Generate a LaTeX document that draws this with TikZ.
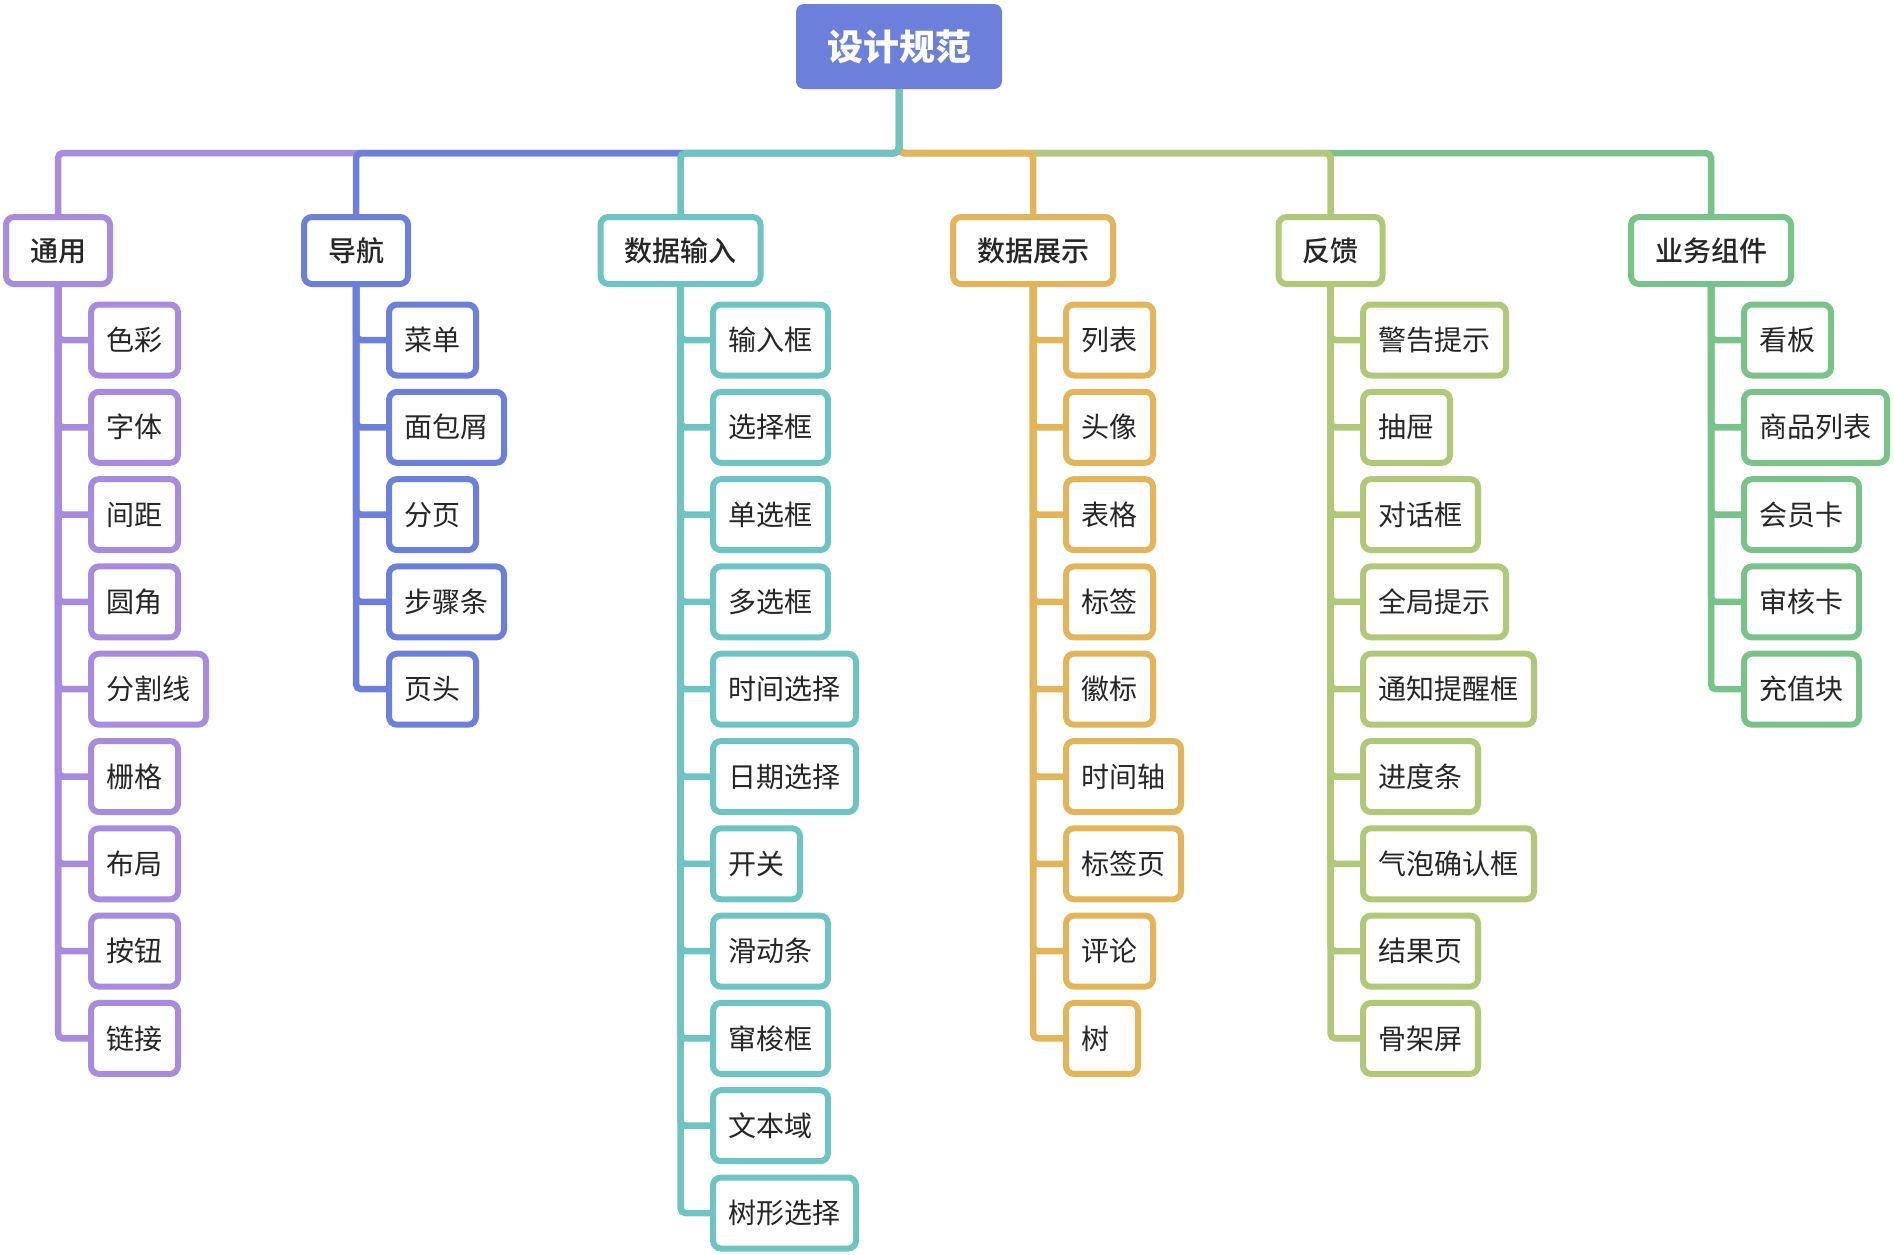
\documentclass[tikz,border=0pt]{standalone}
\usepackage{fontspec}
\setmainfont{Noto Sans CJK SC}
\IfFontExistsTF{Noto Sans CJK SC Medium}
  {\newfontfamily\catfont{Noto Sans CJK SC Medium}}
  {\newcommand\catfont{\bfseries}}
\definecolor{cpurple}{HTML}{A78BDF}
\definecolor{cblue}{HTML}{6B7FDB}
\definecolor{cteal}{HTML}{6EC3C3}
\definecolor{corange}{HTML}{E3B55A}
\definecolor{cyg}{HTML}{B2C879}
\definecolor{cgreen}{HTML}{79C38A}
\definecolor{txt}{HTML}{262626}
\tikzset{
  leaf/.style={draw=#1, line width=6pt, rounded corners=8pt, fill=white,
    minimum height=71pt, inner xsep=15.5pt, inner ysep=0pt, anchor=west,
    font=\fontsize{28pt}{34pt}\selectfont, text=txt, text height=21.3pt, text depth=0pt},
  cat/.style={draw=#1, line width=6pt, rounded corners=8pt, fill=white,
    minimum height=67pt, inner xsep=24pt, inner ysep=0pt, anchor=north,
    font=\fontsize{28pt}{34pt}\selectfont\catfont, text=txt, text height=21.3pt, text depth=0pt},
  wire/.style={draw=#1, line width=6.5pt, rounded corners=5pt},
  rootbox/.style={fill=cblue, rounded corners=8pt, minimum width=206pt, minimum height=85pt,
    inner sep=0pt, font=\fontsize{36pt}{42pt}\selectfont\bfseries, text=white,
    text height=27.4pt, text depth=0pt}
}
\begin{document}
\begin{tikzpicture}[x=1pt,y=-1pt]
\useasboundingbox (0,0) rectangle (1894,1254);
\node[rootbox] (root) at (899,46.5) {设计规范};
\coordinate (bus) at (899,153);
% categories
\node[cat=cpurple] (gen) at (58,214) {通用};
\node[cat=cblue] (nav) at (356,214) {导航};
\node[cat=cteal] (inp) at (680.5,214) {数据输入};
\node[cat=corange] (dsp) at (1033,214) {数据展示};
\node[cat=cyg] (fbk) at (1330.5,214) {反馈};
\node[cat=cgreen] (biz) at (1711,214) {业务组件};
% bus connectors
\draw[wire=cpurple] (root.south) -- (root.south |- bus) -| (gen.north);
\draw[wire=cblue] (root.south) -- (root.south |- bus) -| (nav.north);
\draw[wire=cgreen] (root.south) -- (root.south |- bus) -| (biz.north);
\draw[wire=cyg] (root.south) -- (root.south |- bus) -| (fbk.north);
\draw[wire=corange] (root.south) -- (root.south |- bus) -| (dsp.north);
\draw[wire=cteal] (root.south) -- (root.south |- bus) -| (inp.north);
% children
\foreach \t [count=\i from 0] in {色彩,字体,间距,圆角,分割线,栅格,布局,按钮,链接}{
  \node[leaf=cpurple] (gen-\i) at (88,{340+87.3*\i}) {\t};
  \draw[wire=cpurple] (gen.south) |- (gen-\i.west);
}
\foreach \t [count=\i from 0] in {菜单,面包屑,分页,步骤条,页头}{
  \node[leaf=cblue] (nav-\i) at (386,{340+87.3*\i}) {\t};
  \draw[wire=cblue] (nav.south) |- (nav-\i.west);
}
\foreach \t [count=\i from 0] in {输入框,选择框,单选框,多选框,时间选择,日期选择,开关,滑动条,窜梭框,文本域,树形选择}{
  \node[leaf=cteal] (inp-\i) at (710,{340+87.3*\i}) {\t};
  \draw[wire=cteal] (inp.south) |- (inp-\i.west);
}
\foreach \t [count=\i from 0] in {列表,头像,表格,标签,徽标,时间轴,标签页,评论,{\makebox[41pt][l]{树}}}{
  \node[leaf=corange] (dsp-\i) at (1063,{340+87.3*\i}) {\t};
  \draw[wire=corange] (dsp.south) |- (dsp-\i.west);
}
\foreach \t [count=\i from 0] in {警告提示,抽屉,对话框,全局提示,通知提醒框,进度条,气泡确认框,结果页,骨架屏}{
  \node[leaf=cyg] (fbk-\i) at (1360,{340+87.3*\i}) {\t};
  \draw[wire=cyg] (fbk.south) |- (fbk-\i.west);
}
\foreach \t [count=\i from 0] in {看板,商品列表,会员卡,审核卡,充值块}{
  \node[leaf=cgreen] (biz-\i) at (1741,{340+87.3*\i}) {\t};
  \draw[wire=cgreen] (biz.south) |- (biz-\i.west);
}
\end{tikzpicture}
\end{document}
